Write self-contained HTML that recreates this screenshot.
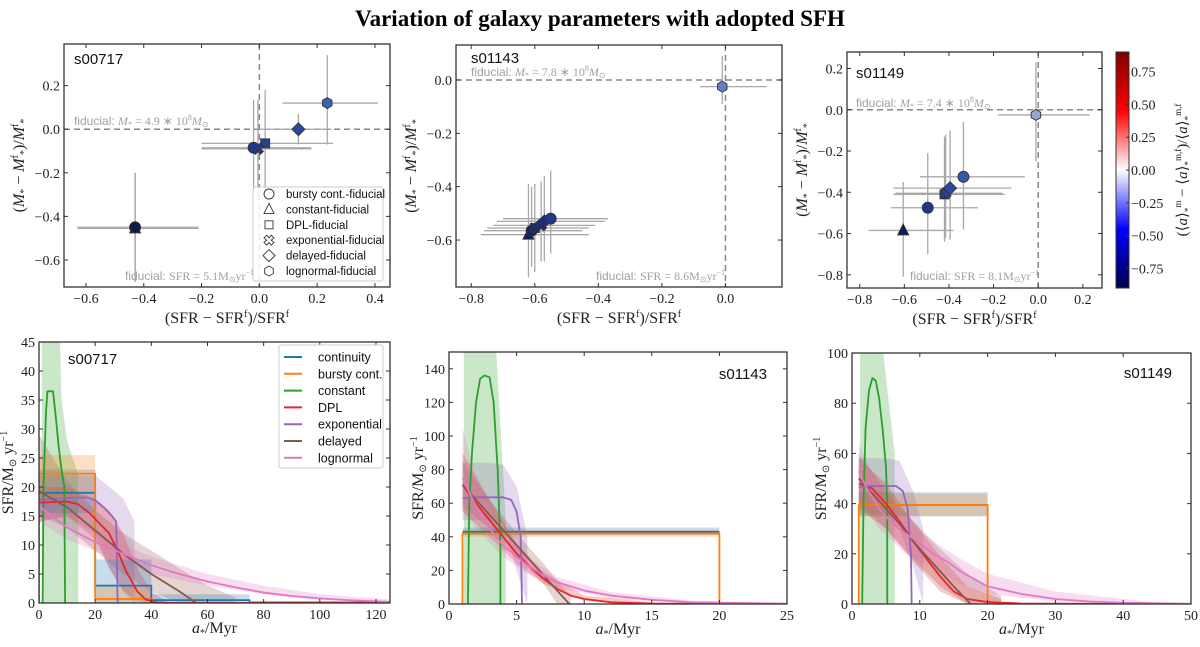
<!DOCTYPE html>
<html><head><meta charset="utf-8"><style>
body{margin:0;background:#fff}
svg text{font-family:"Liberation Serif",serif}
.sans{font-family:"Liberation Sans",sans-serif}
</style></head><body>
<svg id="fig" width="1200" height="642" viewBox="0 0 1200 642" xmlns="http://www.w3.org/2000/svg">
<defs>
<linearGradient id="seis" x1="0" y1="1" x2="0" y2="0">
<stop offset="0" stop-color="#00004c"/><stop offset="0.25" stop-color="#0000ff"/><stop offset="0.5" stop-color="#ffffff"/><stop offset="0.75" stop-color="#ff0000"/><stop offset="1" stop-color="#800000"/>
</linearGradient>
</defs>
<text x="600" y="26" text-anchor="middle" font-size="23" font-weight="bold">Variation of galaxy parameters with adopted SFH</text>
</svg>
<script>
// ---------- top scatter data ----------
const tlX=[-0.43,-0.43,0.02,-0.005,0.135,-0.02,0.235];
const tlY=[-0.455,-0.45,-0.065,-0.09,0.0,-0.085,0.12];
const tlXlo=[-0.63,-0.63,-0.2,-0.2,0.0,-0.2,0.08];
const tlXhi=[-0.21,-0.21,0.255,0.18,0.25,0.18,0.41];
const tlYlo=[-0.7,-0.7,-0.3,-0.31,-0.07,-0.3,-0.07];
const tlYhi=[-0.2,-0.2,0.18,0.135,0.07,0.135,0.34];
const tlC=[-0.85,-0.85,-0.55,-0.58,-0.5,-0.6,-0.35];
const tlM=['triangle','circle','square','cross','diamond','circle','hexagon'];

const tmX=[-0.62,-0.61,-0.6,-0.58,-0.57,-0.55,-0.01];
const tmY=[-0.58,-0.565,-0.555,-0.545,-0.53,-0.52,-0.025];
const tmXlo=[-0.77,-0.76,-0.75,-0.73,-0.72,-0.7,-0.08];
const tmXhi=[-0.43,-0.45,-0.43,-0.41,-0.38,-0.37,0.13];
const tmYlo=[-0.74,-0.7,-0.72,-0.68,-0.68,-0.65,-0.09];
const tmYhi=[-0.39,-0.4,-0.39,-0.38,-0.36,-0.34,0.09];
const tmC=[-0.8,-0.75,-0.7,-0.7,-0.68,-0.6,-0.2];
const tmM=['triangle','circle','square','cross','diamond','circle','hexagon'];

const trX=[-0.605,-0.495,-0.42,-0.415,-0.395,-0.335,-0.01];
const trY=[-0.585,-0.475,-0.41,-0.405,-0.38,-0.325,-0.025];
const trXlo=[-0.76,-0.66,-0.65,-0.64,-0.65,-0.53,-0.18];
const trXhi=[-0.38,-0.27,-0.15,-0.16,-0.12,-0.06,0.23];
const trYlo=[-0.81,-0.7,-0.64,-0.62,-0.63,-0.58,-0.25];
const trYhi=[-0.35,-0.21,-0.13,-0.12,-0.1,-0.06,0.23];
const trC=[-0.82,-0.6,-0.58,-0.55,-0.5,-0.42,-0.05];
const trM=['triangle','circle','square','cross','diamond','circle','hexagon'];

// ---------- bottom SFH data (panel 1: s00717) ----------
const p1ContSteps=[[0,20,19],[20,40,3],[40,75,0.5],[75,125,0.1]];
const p1ContBand=[[0,20,15.5,23],[20,40,0,7.5],[40,75,0,1.5]];
const p1BurstSteps=[[0,20,22.3],[20,40,0.7],[40,125,0]];
const p1BurstBand=[[0,20,18,25.5],[20,40,0,3]];
const p1Const=[[1.3,0],[1.6,20],[2.5,33],[3,36.5],[5,36.5],[6,32],[7,27],[8,23],[9,20],[9.3,0]];
const p1ConstBand=[[1,0,45],[7.5,0,45],[8,0,35],[10,0,28],[14,0,22]];
const p1DPL=[[0,17.3],[5,17.4],[10,17.5],[14,17],[18,15.5],[20,14.5],[22,13.5],[25,12],[28,9],[31,5.5],[35,2],[38,0.6],[42,0.1],[50,0],[125,0]];
const p1DPLBand=[[0,14,20],[10,15,20],[20,11,18],[25,6,16],[30,2,12],[35,0.3,6],[40,0,2],[45,0,0.5]];
const p1Expo=[[0,17.8],[10,18.1],[17,18.2],[20,17.7],[23,16.5],[26,15],[27.5,14],[28,0]];
const p1ExpoBand=[[0,14,22],[10,15,22],[20,12,22],[25,6,20],[30,2,18],[34,0,14]];
const p1Del=[[0,19.3],[10,16.5],[20,12.5],[30,8.5],[40,5],[50,2],[56,0]];
const p1DelBand=[[0,15,29],[10,13,21],[20,9,16],[30,5,12],[40,2,9],[50,0,6],[60,0,3],[70,0,1]];
const p1Log=[[0,16.7],[10,13],[20,10.5],[30,8.5],[40,6.5],[50,5],[60,3.7],[70,2.7],[80,1.8],[90,1.2],[100,0.8],[110,0.5],[125,0.2]];
const p1LogBand=[[0,14,19],[10,11,15],[20,9,12.5],[30,7,10],[40,5,8],[60,3,5],[80,1.5,3],[100,0.5,1.5],[125,0.1,0.6]];
// panel 2: s01143
const p2ContSteps=[[1,20,43]];
const p2ContBand=[[1,20,41,45.5]];
const p2BurstSteps=[[1,20,42],[20,25,0]];
const p2BurstBand=[[1,20,40,44]];
const p2Const=[[1.4,0],[1.5,60],[1.7,90],[2,120],[2.3,134],[2.6,136],[3,135],[3.3,120],[3.6,80],[3.8,35],[3.8,0]];
const p2ConstBand=[[1.1,0,150],[3.5,0,150],[4.2,0,50]];
const p2DPL=[[1,71],[2,60],[3,50],[4,40],[5,30],[6,22],[7,15],[8,9],[9,5],[10,3],[12,1],[15,0.3],[25,0]];
const p2DPLBand=[[1,55,90],[3,40,62],[5,24,36],[7,12,19],[10,2,5],[15,0,1]];
const p2Expo=[[1,63],[2,63.5],[4,63.5],[4.6,62],[5,55],[5.3,40],[5.4,0]];
const p2ExpoBand=[[1,50,84],[3,50,84],[4,48,83],[5,20,70],[5.8,0,40]];
const p2Del=[[1,71],[2,62],[3,53],[4,44],[5,35],[6,26],[7,17],[8,8],[8.9,0]];
const p2DelBand=[[1,58,85],[3,45,62],[5,28,42],[7,12,24],[8,0,14],[9,0,5]];
const p2Log=[[1,75],[2,58],[3,45],[4,35],[5,28],[6,22],[7,17],[8,13],[10,8],[12,5],[15,2.5],[18,1],[25,0.2]];
const p2LogBand=[[1,55,105],[2,45,75],[4,28,42],[6,17,27],[8,10,16],[12,3,7],[18,0.5,2],[25,0,0.5]];
// panel 3: s01149
const p3ContSteps=[[1,20,39.5]];
const p3ContBand=[[1,20,35,44.5]];
const p3BurstSteps=[[1,20,39.5],[20,50,0]];
const p3BurstBand=[[1,20,35,44]];
const p3Const=[[1.5,0],[1.7,40],[2,70],[2.5,85],[3,90],[3.5,89],[4,82],[4.5,70],[5,55],[5.2,40],[5.2,0]];
const p3ConstBand=[[1.2,0,100],[4.6,0,100],[6.3,0,60]];
const p3DPL=[[1,48],[3,46],[5,40],[7,33],[9,25],[11,18],[13,11],[15,5],[17,2],[20,0.8],[25,0.2],[50,0]];
const p3DPLBand=[[1,38,58],[5,30,48],[9,17,33],[13,5,19],[17,0,7],[22,0,2]];
const p3Expo=[[1,46.5],[3,47],[6.5,47],[7.5,45],[8.2,38],[8.7,20],[8.8,0]];
const p3ExpoBand=[[1,36,58],[5,36,58],[7,30,57],[9,15,45],[10.5,0,30]];
const p3Del=[[1,50],[3,44],[5,38],[7,32],[9,25],[11,19],[13,13],[15,7],[17.5,0]];
const p3DelBand=[[1,40,60],[5,30,45],[9,18,33],[13,7,22],[17,0,12],[22,0,3]];
const p3Log=[[1,53],[2,47],[4,38],[6,32],[8,28],[10,24],[12,20],[14,17],[16,13],[18,10],[20,7],[25,4],[30,2],[35,1],[40,0.5],[50,0.1]];
const p3LogBand=[[1,42,64],[4,30,46],[8,20,33],[12,14,25],[16,8,18],[20,4,12],[30,1,5],[40,0.2,2],[45,0,0.5]];

const cbTicks=[0.75,0.5,0.25,0,-0.25,-0.5,-0.75];
const legendNames=['continuity','bursty cont.','constant','DPL','exponential','delayed','lognormal'];
const scatterLegend=['bursty cont.-fiducial','constant-fiducial','DPL-fiducial','exponential-fiducial','delayed-fiducial','lognormal-fiducial'];
const scatterLegendM=['circle','triangle','square','cross','diamond','hexagon'];

const COL={cont:'#1f77b4',burst:'#ff7f0e',cons:'#2ca02c',dpl:'#e8262b',expo:'#9467bd',del:'#8c564b',log:'#e377c2'};
const svg=document.getElementById('fig');
const NS='http://www.w3.org/2000/svg';
function el(tag,attrs,parent){const e=document.createElementNS(NS,tag);for(const k in attrs)e.setAttribute(k,attrs[k]);(parent||svg).appendChild(e);return e;}
function fmt(v,d){const s=Math.abs(v).toFixed(d);return (v<-1e-9?'\u2212':'')+s;}
function lin(d0,d1,r0,r1){return v=>r0+(v-d0)*(r1-r0)/(d1-d0);}

function axes(name,x0,y0,x1,y1,sx,sy,xt,yt,xd,yd){
  const g=el('g',{});
  
  
  xt.forEach(v=>{const x=sx(v);
    el('line',{x1:x,x2:x,y1:y1,y2:y1-4,stroke:'#333'},g);
    el('line',{x1:x,x2:x,y1:y0,y2:y0+4,stroke:'#333'},g);
    const t=el('text',{x:x,y:y1+16,'text-anchor':'middle','font-size':14,fill:'#222'},g);t.textContent=fmt(v,xd);
    
    });
  yt.forEach(v=>{const y=sy(v);
    el('line',{x1:x0,x2:x0+4,y1:y,y2:y,stroke:'#333'},g);
    el('line',{x1:x1,x2:x1-4,y1:y,y2:y,stroke:'#333'},g);
    const t=el('text',{x:x0-4,y:y+5,'text-anchor':'end','font-size':14,fill:'#222'},g);t.textContent=fmt(v,yd);
    
    });
  const r=el('rect',{x:x0,y:y0,width:x1-x0,height:y1-y0,fill:'none',stroke:'#333','stroke-width':1.3},g);
  
  
}
function cmap(v){
  const a=[[-0.9,[10,20,64]],[-0.6,[30,56,138]],[-0.35,[58,99,184]],[-0.15,[112,136,204]],[0,[176,176,216]]];
  if(v<=a[0][0])return 'rgb('+a[0][1]+')';
  for(let i=1;i<a.length;i++){if(v<=a[i][0]){const t=(v-a[i-1][0])/(a[i][0]-a[i-1][0]);const c=a[i-1][1].map((q,j)=>Math.round(q+t*(a[i][1][j]-q)));return 'rgb('+c+')';}}
  return 'rgb('+a[a.length-1][1]+')';
}
function marker(g,m,x,y,fill,s){
  s=s||5.5;let e;
  if(m==='circle')e=el('circle',{cx:x,cy:y,r:s},g);
  else if(m==='triangle')e=el('polygon',{points:`${x},${y-s-1} ${x-s},${y+s-1} ${x+s},${y+s-1}`},g);
  else if(m==='square')e=el('rect',{x:x-s+1,y:y-s+1,width:2*s-2,height:2*s-2},g);
  else if(m==='diamond')e=el('polygon',{points:`${x},${y-s-1} ${x+s+1},${y} ${x},${y+s+1} ${x-s-1},${y}`},g);
  else if(m==='hexagon'){let p=[];for(let k=0;k<6;k++){const a=Math.PI/3*k+Math.PI/6;p.push((x+s*Math.cos(a)).toFixed(1)+','+(y+s*Math.sin(a)).toFixed(1));}e=el('polygon',{points:p.join(' ')},g);}
  else {const q=s*0.45;e=el('path',{d:`M${x-s},${y-q}L${x-q},${y-s}L${x},${y-q}L${x+q},${y-s}L${x+s},${y-q}L${x+q},${y}L${x+s},${y+q}L${x+q},${y+s}L${x},${y+q}L${x-q},${y+s}L${x-s},${y+q}L${x-q},${y}Z`},g);}
  e.setAttribute('fill',fill);e.setAttribute('stroke','#333');e.setAttribute('stroke-width','0.9');
  return e;
}
function scatterPanel(name,box,xr,yr,xt,yt,X,Y,Xlo,Xhi,Ylo,Yhi,C,M,fidM,fidS,fidMpos,fidSpos,lab){
  const [x0,y0,x1,y1]=box;const sx=lin(xr[0],xr[1],x0,x1),sy=lin(yr[0],yr[1],y1,y0);
  const g=el('g',{});
  
  
  const cpw=el('clipPath',{id:name+'c'},g);el('rect',{x:x0,y:y0,width:x1-x0,height:y1-y0},cpw);
  const l1=el('line',{x1:x0,x2:x1,y1:sy(0),y2:sy(0),stroke:'#888','stroke-width':1.5,'stroke-dasharray':'6,4'},g);
  
  
  const l2=el('line',{x1:sx(0),x2:sx(0),y1:y0,y2:y1,stroke:'#888','stroke-width':1.5,'stroke-dasharray':'6,4'},g);
  
  
  const t1=el('text',{x:fidMpos[0],y:fidMpos[1],'font-size':12,fill:'#a0a0a0'},g);
  t1.innerHTML='<tspan class="sans">fiducial: </tspan><tspan font-style="italic">M</tspan><tspan font-size="8" dy="2">*</tspan><tspan dy="-2"> = '+fidM+' ∗ 10</tspan><tspan font-size="8" dy="-5">8</tspan><tspan font-style="italic" dy="5">M</tspan><tspan font-size="8" dy="2">⊙</tspan>';
  
  
  const t2=el('text',{x:fidSpos[0],y:fidSpos[1],'font-size':12,fill:'#a0a0a0'},g);
  t2.innerHTML='<tspan class="sans">fiducial: </tspan><tspan>SFR = '+fidS+'M</tspan><tspan font-size="8" dy="2">⊙</tspan><tspan dy="-2">yr</tspan><tspan font-size="8" dy="-5">−1</tspan>';
  
  
  const eb=el('g',{'clip-path':`url(#${name}c)`,stroke:'#a8a8a8','stroke-width':1.3},g);
  X.forEach((v,i)=>{
    const h=el('line',{x1:sx(Xlo[i]),x2:sx(Xhi[i]),y1:sy(Y[i]),y2:sy(Y[i])},eb);
    
    
    const vv=el('line',{x1:sx(v),x2:sx(v),y1:sy(Ylo[i]),y2:sy(Yhi[i])},eb);
    
    });
  X.forEach((v,i)=>{const m=marker(g,M[i],sx(v),sy(Y[i]),cmap(C[i]));
    
    });
  const tl=el('text',{x:lab[0],y:lab[1],'font-size':15,class:'sans',fill:'#111'},g);tl.textContent=name;
  
  
  axes(name,x0,y0,x1,y1,sx,sy,xt,yt,1,1);
  const xl=el('text',{x:(x0+x1)/2,y:y1+36,'text-anchor':'middle','font-size':16,fill:'#222'});
  xl.innerHTML='(SFR − SFR<tspan font-size="10" dy="-6">f</tspan><tspan dy="6">)/SFR</tspan><tspan font-size="10" dy="-6">f</tspan>';
  
  
  const yl=el('text',{x:0,y:0,'text-anchor':'middle','font-size':16,fill:'#222',transform:`translate(${x0-40},${(y0+y1)/2}) rotate(-90)`});
  yl.innerHTML='(<tspan font-style="italic">M</tspan><tspan font-size="10" dy="3">*</tspan><tspan dy="-3"> − </tspan><tspan font-style="italic">M</tspan><tspan font-size="10" dy="-6">f</tspan><tspan font-size="10" dy="9">*</tspan><tspan dy="-3">)/</tspan><tspan font-style="italic">M</tspan><tspan font-size="10" dy="-6">f</tspan><tspan font-size="10" dy="9">*</tspan>';
  
  
}
const ticks=(a,b,s)=>{const r=[];for(let v=a;v<=b+1e-9;v+=s)r.push(+v.toFixed(3));return r;};
scatterPanel('s00717',[64,44,390,287],[-0.676,0.452],[-0.724,0.391],ticks(-0.6,0.4,0.2),ticks(-0.6,0.2,0.2),tlX,tlY,tlXlo,tlXhi,tlYlo,tlYhi,tlC,tlM,'4.9','5.1',[74,125],[125,280],[74,64]);
scatterPanel('s01143',[456,45,782,287],[-0.848,0.178],[-0.776,0.131],ticks(-0.8,0,0.2),ticks(-0.6,0,0.2),tmX,tmY,tmXlo,tmXhi,tmYlo,tmYhi,tmC,tmM,'7.8','8.6',[471,76],[596,280],[471,63]);
scatterPanel('s01149',[847,52,1102,288],[-0.857,0.286],[-0.864,0.280],ticks(-0.8,0.2,0.2),ticks(-0.8,0.2,0.2),trX,trY,trXlo,trXhi,trYlo,trYhi,trC,trM,'7.4','8.1',[856,107],[910,280],[856,78]);

(function(){const g=el('g',{});
  
  
  el('rect',{x:253,y:187,width:130,height:94,fill:'#fff','fill-opacity':0.85,stroke:'#ccc',rx:2},g);
  scatterLegend.forEach((n,i)=>{const y=194+i*15.4;
    marker(g,scatterLegendM[i],269,y,'#fff',5);
    const t=el('text',{x:286,y:y+4,'font-size':11.5,class:'sans',fill:'#111'},g);t.textContent=n;
    
    });
})();
(function(){const x0=1116,x1=1129,y0=52,y1=288;const sy=lin(-0.9,0.9,y1,y0);
  const g=el('g',{});
  
  
  el('rect',{x:x0,y:y0,width:x1-x0,height:y1-y0,fill:'url(#seis)',stroke:'#333'},g);
  cbTicks.forEach(v=>{const y=sy(v);el('line',{x1:x1-3,x2:x1,y1:y,y2:y,stroke:'#333'},g);
    const t=el('text',{x:x1+2,y:y+5,'font-size':14,fill:'#222'},g);t.textContent=fmt(v,2);
    
    });
  const yl=el('text',{x:0,y:0,'text-anchor':'middle','font-size':15,fill:'#222',transform:`translate(1187,170) rotate(-90)`},g);
  yl.innerHTML='(⟨<tspan font-style="italic">a</tspan>⟩<tspan font-size="9" dy="4">*</tspan><tspan font-size="9" dy="-10">m</tspan><tspan dy="6"> − ⟨</tspan><tspan font-style="italic">a</tspan>⟩<tspan font-size="9" dy="4">*</tspan><tspan font-size="9" dy="-10">m,f</tspan><tspan dy="6">)/⟨</tspan><tspan font-style="italic">a</tspan>⟩<tspan font-size="9" dy="4">*</tspan><tspan font-size="9" dy="-10">m,f</tspan>';
  
  
})();

function sfhPanel(name,box,xr,yr,xt,yt,D,lab,anchor){
  const [x0,y0,x1,y1]=box;const sx=lin(xr[0],xr[1],x0,x1),sy=lin(yr[0],yr[1],y1,y0);
  const g=el('g',{});
  
  
  const cpw=el('clipPath',{id:name+'s'},g);el('rect',{x:x0,y:y0,width:x1-x0,height:y1-y0},cpw);
  const pg=el('g',{'clip-path':`url(#${name}s)`},g);
  const band=(arr,c,n)=>{const up=arr.map(p=>sx(p[0])+','+sy(p[2])),dn=arr.slice().reverse().map(p=>sx(p[0])+','+sy(p[1]));
    const e=el('polygon',{points:up.concat(dn).join(' '),fill:c,'fill-opacity':0.25},pg);
    
    };
  const stepBand=(arr,c,n)=>arr.forEach(s=>{const e=el('rect',{x:sx(s[0]),y:sy(s[3]),width:sx(s[1])-sx(s[0]),height:sy(s[2])-sy(s[3]),fill:c,'fill-opacity':0.25},pg);
    
    });
  const line=(arr,c,n)=>{const e=el('polyline',{points:arr.map(p=>sx(p[0])+','+sy(p[1])).join(' '),fill:'none',stroke:c,'stroke-width':1.8,'stroke-linejoin':'round'},pg);
    
    };
  const steps=arr=>{const p=[];arr.forEach(s=>{p.push([s[0],s[2]]);p.push([s[1],s[2]]);});return p;};
  band(D.consB,COL.cons,'constant');band(D.expoB,COL.expo,'exponential');band(D.delB,COL.del,'delayed');
  band(D.dplB,COL.dpl,'dpl');band(D.logB,COL.log,'lognormal');
  stepBand(D.contB,COL.cont,'continuity');stepBand(D.burstB,COL.burst,'bursty');
  line(steps(D.cont),COL.cont,'continuity');
  const bp=steps(D.burst);bp.push([bp[bp.length-1][0],0]);line([[D.burst[0][0],0]].concat(bp),COL.burst,'bursty');
  line(D.cons,COL.cons,'constant');line(D.dpl,COL.dpl,'dpl');line(D.expo,COL.expo,'exponential');line(D.del,COL.del,'delayed');line(D.log,COL.log,'lognormal');
  const tl=el('text',{x:lab[0],y:lab[1],'font-size':15,class:'sans',fill:'#111','text-anchor':anchor},g);tl.textContent=name;
  
  
  axes(name,x0,y0,x1,y1,sx,sy,xt,yt,0,0);
  const xl=el('text',{x:(x0+x1)/2,y:y1+30,'text-anchor':'middle','font-size':16,fill:'#222'});
  xl.innerHTML='<tspan font-style="italic">a</tspan><tspan font-size="10" dy="3">*</tspan><tspan dy="-3">/Myr</tspan>';
  
  
  const yl=el('text',{x:0,y:0,'text-anchor':'middle','font-size':16,fill:'#222',transform:`translate(${x0-26},${(y0+y1)/2}) rotate(-90)`});
  yl.innerHTML='SFR/M<tspan font-size="10" dy="3">⊙</tspan><tspan dy="-3"> yr</tspan><tspan font-size="10" dy="-6">−1</tspan>';
  
  
}
sfhPanel('s00717',[39,342,390,603],[0,125],[0,45],ticks(0,120,20),ticks(0,45,5),
 {cont:p1ContSteps,contB:p1ContBand,burst:p1BurstSteps,burstB:p1BurstBand,cons:p1Const,consB:p1ConstBand,dpl:p1DPL,dplB:p1DPLBand,expo:p1Expo,expoB:p1ExpoBand,del:p1Del,delB:p1DelBand,log:p1Log,logB:p1LogBand},[68,364],'start');
sfhPanel('s01143',[449,352,787,604],[0,25],[0,150],ticks(0,25,5),ticks(0,140,20),
 {cont:p2ContSteps,contB:p2ContBand,burst:p2BurstSteps,burstB:p2BurstBand,cons:p2Const,consB:p2ConstBand,dpl:p2DPL,dplB:p2DPLBand,expo:p2Expo,expoB:p2ExpoBand,del:p2Del,delB:p2DelBand,log:p2Log,logB:p2LogBand},[767,379],'end');
sfhPanel('s01149',[852,353,1191,604],[0,50],[0,100],ticks(0,50,10),ticks(0,100,20),
 {cont:p3ContSteps,contB:p3ContBand,burst:p3BurstSteps,burstB:p3BurstBand,cons:p3Const,consB:p3ConstBand,dpl:p3DPL,dplB:p3DPLBand,expo:p3Expo,expoB:p3ExpoBand,del:p3Del,delB:p3DelBand,log:p3Log,logB:p3LogBand},[1172,378],'end');

(function(){const g=el('g',{});
  
  
  el('rect',{x:279,y:345,width:104,height:123,fill:'#fff',stroke:'#ccc',rx:2},g);
  const cs=[COL.cont,COL.burst,COL.cons,COL.dpl,COL.expo,COL.del,COL.log];
  legendNames.forEach((n,i)=>{const y=357+i*16.8;
    el('line',{x1:284,x2:302,y1:y,y2:y,stroke:cs[i],'stroke-width':2},g);
    const t=el('text',{x:318,y:y+4.5,'font-size':12.5,class:'sans',fill:'#111'},g);t.textContent=n;
    
    });
})();
</script>
</body></html>
